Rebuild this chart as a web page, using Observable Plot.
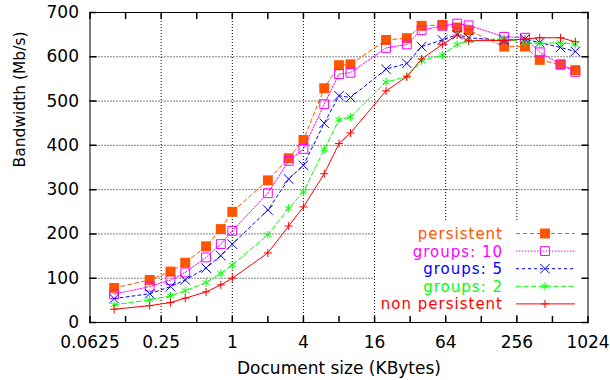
<!DOCTYPE html>
<html><head><meta charset="utf-8">
<script src="https://cdn.jsdelivr.net/npm/d3@7"></script>
<script src="https://cdn.jsdelivr.net/npm/@observablehq/plot@0.6"></script>
<style>body{margin:0;background:#fff}</style>
</head><body><div id="chart"></div>
<script>
// ---- data ----
const sizes = [0.1,0.2,0.3,0.4,0.6,0.8,1,2,3,4,6,8,10,20,30,40,60,80,100,200,300,400,600,800];
const persistent    = [78,96,115,135,172,211,250,321,371,412,529,581,583,638,642,670,672,666,660,623,623,593,582,570];
const groups10      = [64,81,96,113,147,177,207,292,365,392,493,561,564,620,628,660,670,675,671,645,643,610,583,566];
const groups5       = [54,65,81,96,123,151,177,254,324,355,450,512,508,572,585,623,638,650,643,637,640,632,621,612];
const groups2       = [40,51,60,72,90,111,130,198,258,295,391,458,464,543,555,591,604,628,636,641,632,630,632,628];
const nonPersistent = [30,38,45,55,69,85,100,157,218,261,336,404,428,523,555,595,628,649,636,637,640,643,643,634];
const seriesNames = ["persistent","groups: 10","groups: 5","groups: 2","non persistent"];
const seriesValues = [persistent, groups10, groups5, groups2, nonPersistent];
const xTickLabels = [0.0625,0.25,1,4,16,64,256,1024];
const xMinorTicks = [0.0625,0.125,0.25,0.5,1,2,4,8,16,32,64,128,256,512,1024];
const xGridTicks = [0.25,1,4,16,64,256];
const yTicks = [0,100,200,300,400,500,600,700];
const yGridTicks = [100,200,300,400,500,600];

// ---- styles ----
const styles = [
  {color:"#ff5500", dash:"4,3",     symbol:"square",   r:5.6, filled:true},
  {color:"#ff00ff", dash:"1.5,1.5", symbol:"square",   r:5.0, filled:false},
  {color:"#0000ff", dash:"3,3",     symbol:"times",    r:4.4, filled:false},
  {color:"#00ff00", dash:"5,2.5",   symbol:"asterisk", r:3.8, filled:false},
  {color:"#ff0000", dash:null,      symbol:"plus",     r:2.7, filled:false}
];
const FONT = "DejaVu Sans";
const tickShape = {draw(c, l){ c.moveTo(0,0); c.lineTo(0,-l); }};

const marks = [
  Plot.gridX(xGridTicks, {stroke:"black", strokeOpacity:1, strokeDasharray:"1,2"}),
  Plot.gridY(yGridTicks, {stroke:"black", strokeOpacity:1, strokeDasharray:"1,2"})
];
seriesValues.forEach((vals, i) => {
  const st = styles[i];
  const rows = sizes.map((s, j) => ({size: s, value: vals[j], series: seriesNames[i]}));
  marks.push(Plot.line(rows, {x:"size", y:"value", stroke:st.color, strokeWidth:1, strokeDasharray:st.dash}));
  marks.push(Plot.dot(rows, {x:"size", y:"value", symbol:st.symbol, r:st.r,
    fill: st.filled ? st.color : "none", stroke: st.filled ? "none" : st.color, strokeWidth:1}));
});
marks.push(
  Plot.frame({stroke:"black", strokeWidth:1}),
  Plot.vector(xMinorTicks, {x:d=>d, frameAnchor:"bottom", length:6, rotate:0, anchor:"start", shape:tickShape, stroke:"black"}),
  Plot.vector(xMinorTicks, {x:d=>d, frameAnchor:"top", length:6, rotate:180, anchor:"start", shape:tickShape, stroke:"black"}),
  Plot.vector(yTicks, {y:d=>d, frameAnchor:"left", length:6, rotate:90, anchor:"start", shape:tickShape, stroke:"black"}),
  Plot.vector(yTicks, {y:d=>d, frameAnchor:"right", length:6, rotate:-90, anchor:"start", shape:tickShape, stroke:"black"}),
  Plot.axisX(xTickLabels, {tickSize:0, tickPadding:13, tickFormat:d=>String(d), label:null, fill:"black"}),
  Plot.axisY(yTicks, {tickSize:0, tickPadding:11, label:null, fill:"black"}),
  Plot.text(["Document size (KBytes)"], {frameAnchor:"bottom", dy:51, fill:"black"}),
  Plot.text(["Bandwidth (Mb/s)"], {frameAnchor:"left", rotate:-90, dx:-70, fill:"black", fontSize:15.5})
);

const chart = Plot.plot({
  width: 610, height: 380,
  marginLeft: 89.5, marginRight: 22.5, marginTop: 12, marginBottom: 58,
  x: {type:"log", base:2, domain:[0.0625,1024]},
  y: {domain:[0,700]},
  style: {fontFamily: FONT, fontSize:"17px", background:"white", color:"black"},
  marks
});

// ---- legend (drawn inside the frame, gnuplot style) ----
const svg = d3.select(chart);
const frameSel = svg.select('[aria-label="frame"]');
const leg = svg.insert("g", () => frameSel.node());
leg.append("rect").attr("x",375).attr("y",222).attr("width",211).attr("height",91).attr("fill","white");
const symbolMap = {square:d3.symbolSquare, times:d3.symbolTimes, asterisk:d3.symbolAsterisk, plus:d3.symbolPlus};
seriesNames.forEach((name, i) => {
  const st = styles[i];
  const yy = 233.5 + i*17.6;
  leg.append("text").attr("x",503).attr("y",yy).attr("text-anchor","end").attr("dy","0.36em")
    .attr("fill",st.color).attr("font-family",FONT).attr("font-size",15).attr("letter-spacing","1px").text(name);
  leg.append("line").attr("x1",516).attr("x2",575).attr("y1",yy).attr("y2",yy)
    .attr("stroke",st.color).attr("stroke-width",1).attr("stroke-dasharray",st.dash);
  leg.append("path").attr("transform",`translate(545,${yy})`)
    .attr("d", d3.symbol(symbolMap[st.symbol], st.r*st.r*Math.PI)())
    .attr("fill", st.filled ? st.color : "none").attr("stroke", st.filled ? "none" : st.color);
});
document.getElementById("chart").appendChild(chart);
</script>
</body></html>
